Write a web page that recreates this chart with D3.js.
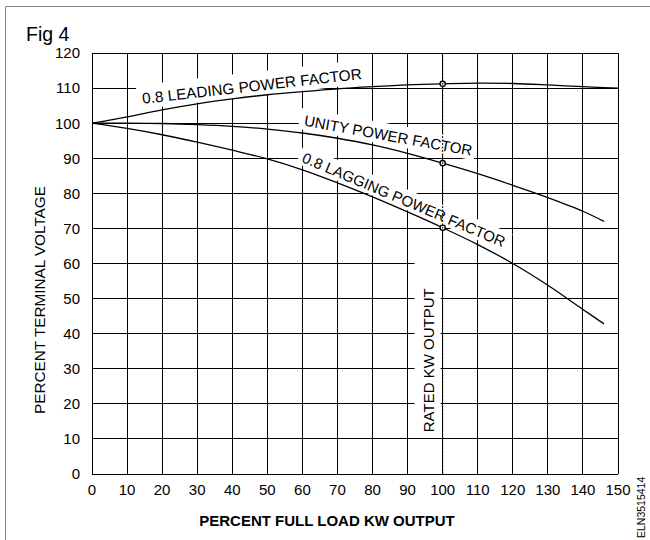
<!DOCTYPE html>
<html>
<head>
<meta charset="utf-8">
<script src="https://cdn.jsdelivr.net/npm/d3@7"></script>
<style>
  html, body { margin: 0; padding: 0; background: #fff; }
  svg { display: block; }
  text { font-family: "Liberation Sans", Arial, sans-serif; fill: #000; }
</style>
</head>
<body>
<svg id="chart" width="650" height="540"></svg>
<script>
// ---- data ----
const xTicks = [0,10,20,30,40,50,60,70,80,90,100,110,120,130,140,150];
const yTicks = [0,10,20,30,40,50,60,70,80,90,100,110,120];

const leadingX = [0,10,20,30,40,50,60,70,80,90,100,110,120,130,140,150];
const leadingY = [100,101.8,103.8,105.5,106.9,108.1,109.0,109.8,110.4,110.9,111.2,111.4,111.3,110.9,110.4,110.0];

const unityX = [0,10,20,30,40,50,60,70,80,90,100,110,120,130,140,146];
const unityY = [100,100,99.9,99.6,99.1,98.3,97.2,95.7,93.8,91.4,88.6,85.6,82.3,78.8,74.9,72.0];

const laggingX = [0,10,20,30,40,50,60,70,80,90,100,110,120,130,140,146];
const laggingY = [100,98.5,96.7,94.6,92.3,89.8,86.7,83.0,79.0,74.7,70.2,65.4,60.0,53.8,46.9,42.8];

const ratedLoad = 100;

// ---- drawing ----
const svg = d3.select("#chart");
const x = d3.scaleLinear().domain([0,150]).range([92,618]);
const y = d3.scaleLinear().domain([0,120]).range([474,53]);

// outer frame (partial, grey)
svg.append("line").attr("x1",5.5).attr("x2",650).attr("y1",6.5).attr("y2",6.5)
  .attr("stroke","#888").attr("stroke-width",1);
svg.append("line").attr("x1",5.5).attr("x2",5.5).attr("y1",6.5).attr("y2",540)
  .attr("stroke","#888").attr("stroke-width",1);

// grid
const grid = svg.append("g").attr("stroke","#000").attr("stroke-width",1).attr("shape-rendering","crispEdges");
grid.selectAll("line.v").data(xTicks).join("line").attr("class","v")
  .attr("x1",d=>x(d)).attr("x2",d=>x(d)).attr("y1",y(0)).attr("y2",y(120));
grid.selectAll("line.h").data(yTicks).join("line").attr("class","h")
  .attr("x1",x(0)).attr("x2",x(150)).attr("y1",d=>y(d)).attr("y2",d=>y(d));

// axis tick labels
svg.append("g").selectAll("text").data(yTicks).join("text")
  .attr("x",80).attr("y",d=>y(d)).attr("dy","0.36em")
  .attr("text-anchor","end").attr("font-size",15).text(d=>d);
svg.append("g").selectAll("text").data(xTicks).join("text")
  .attr("x",d=>x(d)).attr("y",495)
  .attr("text-anchor","middle").attr("font-size",15).text(d=>d);

// titles
svg.append("text").attr("x",26).attr("y",41).attr("font-size",19.5).text("Fig 4");
svg.append("text").attr("transform","translate(45,300) rotate(-90)")
  .attr("text-anchor","middle").attr("font-size",15.3).text("PERCENT TERMINAL VOLTAGE");
svg.append("text").attr("x",327).attr("y",526)
  .attr("text-anchor","middle").attr("font-size",15).attr("font-weight","bold")
  .text("PERCENT FULL LOAD KW OUTPUT");
svg.append("text").attr("transform","translate(645,538) rotate(-90)")
  .attr("font-size",10.5).text("ELN3515414");

// layers
const maskLayer = svg.append("g");
const markLayer = svg.append("g");
const textLayer = svg.append("g");

// curve labels with white masks behind them (masks under curves)
function label(text, dx, dy, angle, pad, size) {
  const tf = `translate(${x(dx)},${y(dy)}) rotate(${angle})`;
  const t = textLayer.append("text").attr("transform", tf).attr("font-size", size).text(text);
  const b = t.node().getBBox();
  maskLayer.append("rect").attr("transform", tf).attr("fill","#fff")
    .attr("x", b.x - pad[0]).attr("y", b.y - pad[1])
    .attr("width", b.width + pad[0] + pad[2]).attr("height", b.height + pad[1] + pad[3]);
}
label("0.8 LEADING POWER FACTOR", 14.5, 105.5, -6.5, [5,5,6,2], 15.3);
label("UNITY POWER FACTOR", 60.3, 99.3, 10.2, [5,3,3,1], 15);
label("0.8 LAGGING POWER FACTOR", 59.6, 89.0, 23, [4,2,4,0], 15);
label("RATED KW OUTPUT", 97.4, 11.9, -90, [3,5,28,4], 15);

// rated output dashed line
markLayer.append("line").attr("x1",x(ratedLoad)).attr("x2",x(ratedLoad))
  .attr("y1",y(0)).attr("y2",y(120))
  .attr("stroke","#000").attr("stroke-width",1).attr("stroke-dasharray","2,1.5");

// curves
const lineGen = d3.line().x(d=>x(d[0])).y(d=>y(d[1])).curve(d3.curveCatmullRom.alpha(0.5));
const series = [
  [leadingX, leadingY],
  [unityX, unityY],
  [laggingX, laggingY]
];
series.forEach(([xs, ys]) => {
  const pts = xs.map((v,i)=>[v, ys[i]]);
  markLayer.append("path").datum(pts).attr("d", lineGen)
    .attr("fill","none").attr("stroke","#000").attr("stroke-width",1.3);
});
series.forEach(([xs, ys]) => {
  const idx = xs.indexOf(ratedLoad);
  markLayer.append("circle").attr("cx",x(ratedLoad)).attr("cy",y(ys[idx])).attr("r",2.6)
    .attr("fill","#fff").attr("stroke","#000").attr("stroke-width",1.4);
  markLayer.append("circle").attr("cx",x(ratedLoad)).attr("cy",y(ys[idx])).attr("r",0.8)
    .attr("fill","#000");
});
</script>
</body>
</html>
